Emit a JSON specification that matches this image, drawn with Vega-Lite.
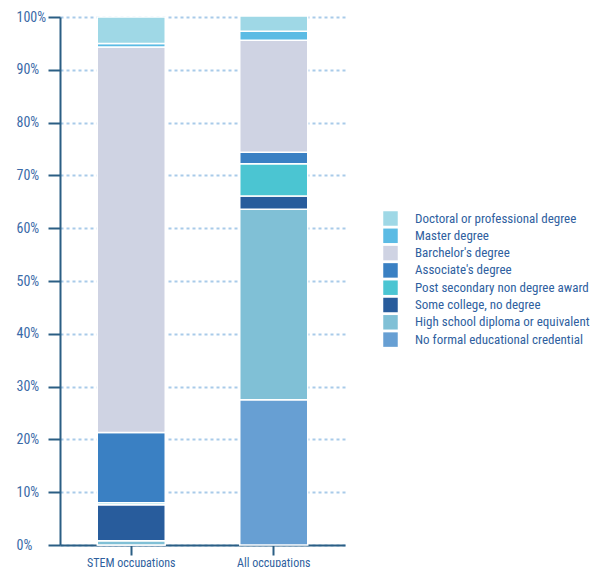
{
  "$schema": "https://vega.github.io/schema/vega-lite/v6.json",
  "width": 285,
  "height": 528,
  "autosize": {"type": "none"},
  "padding": {"left": 60, "top": 17, "right": 255, "bottom": 22},
  "background": "white",
  "config": {
    "view": {"stroke": null},
    "font": "Liberation Sans Narrow, Roboto Condensed, DejaVu Sans Condensed, sans-serif"
  },
  "data": {
    "values": [
      {"occupation": "STEM occupations", "education": "No formal educational credential", "level": 1, "share": 0.0},
      {"occupation": "STEM occupations", "education": "High school diploma or equivalent", "level": 2, "share": 0.8},
      {"occupation": "STEM occupations", "education": "Some college, no degree", "level": 3, "share": 6.8},
      {"occupation": "STEM occupations", "education": "Post secondary non degree award", "level": 4, "share": 0.4},
      {"occupation": "STEM occupations", "education": "Associate's degree", "level": 5, "share": 13.3},
      {"occupation": "STEM occupations", "education": "Barchelor's degree", "level": 6, "share": 73.0},
      {"occupation": "STEM occupations", "education": "Master degree", "level": 7, "share": 0.7},
      {"occupation": "STEM occupations", "education": "Doctoral or professional degree", "level": 8, "share": 5.0},
      {"occupation": "All occupations", "education": "No formal educational credential", "level": 1, "share": 27.5},
      {"occupation": "All occupations", "education": "High school diploma or equivalent", "level": 2, "share": 36.1},
      {"occupation": "All occupations", "education": "Some college, no degree", "level": 3, "share": 2.5},
      {"occupation": "All occupations", "education": "Post secondary non degree award", "level": 4, "share": 6.1},
      {"occupation": "All occupations", "education": "Associate's degree", "level": 5, "share": 2.2},
      {"occupation": "All occupations", "education": "Barchelor's degree", "level": 6, "share": 21.2},
      {"occupation": "All occupations", "education": "Master degree", "level": 7, "share": 1.7},
      {"occupation": "All occupations", "education": "Doctoral or professional degree", "level": 8, "share": 2.9}
    ]
  },
  "mark": {"type": "bar", "size": 68, "stroke": "white", "strokeWidth": 1.5},
  "encoding": {
    "x": {
      "field": "occupation",
      "type": "nominal",
      "sort": ["STEM occupations", "All occupations"],
      "scale": {"paddingInner": 0.5, "paddingOuter": 0.25},
      "axis": {
        "title": null,
        "labelAngle": 0,
        "domainColor": "#2b5e84",
        "domainWidth": 2,
        "tickColor": "#2b5e84",
        "tickWidth": 2,
        "tickSize": 10,
        "labelPadding": 2,
        "labelFontSize": 12,
        "labelColor": "#2f5f9e",
        "grid": false
      }
    },
    "y": {
      "field": "share",
      "type": "quantitative",
      "stack": "zero",
      "scale": {"domain": [0, 100], "nice": false},
      "axis": {
        "title": null,
        "values": [0, 10, 20, 30, 40, 50, 60, 70, 80, 90, 100],
        "labelExpr": "datum.value + '%'",
        "labelAlign": "left",
        "labelPadding": 32,
        "labelFontSize": 14,
        "labelColor": "#3a6aa8",
        "domainColor": "#2b5e84",
        "domainWidth": 2,
        "tickColor": "#2b5e84",
        "tickWidth": 2,
        "tickSize": 12,
        "grid": true,
        "gridColor": "#a9cbe9",
        "gridWidth": 2,
        "gridDash": [3, 3]
      }
    },
    "color": {
      "field": "education",
      "type": "nominal",
      "scale": {
        "domain": [
          "Doctoral or professional degree",
          "Master degree",
          "Barchelor's degree",
          "Associate's degree",
          "Post secondary non degree award",
          "Some college, no degree",
          "High school diploma or equivalent",
          "No formal educational credential"
        ],
        "range": ["#9fd8e6", "#5bbbe4", "#cfd3e3", "#3a80c3", "#4bc5d2", "#285c9c", "#80c0d6", "#679fd3"]
      },
      "legend": {
        "title": null,
        "orient": "none",
        "legendX": 323,
        "legendY": 194,
        "symbolType": "square",
        "symbolSize": 210,
        "symbolStrokeWidth": 0,
        "labelFontSize": 13,
        "labelColor": "#2f5fa0",
        "labelOffset": 17,
        "rowPadding": 2.3,
        "labelLimit": 300
      }
    },
    "order": {"field": "level", "type": "quantitative", "sort": "ascending"}
  }
}
